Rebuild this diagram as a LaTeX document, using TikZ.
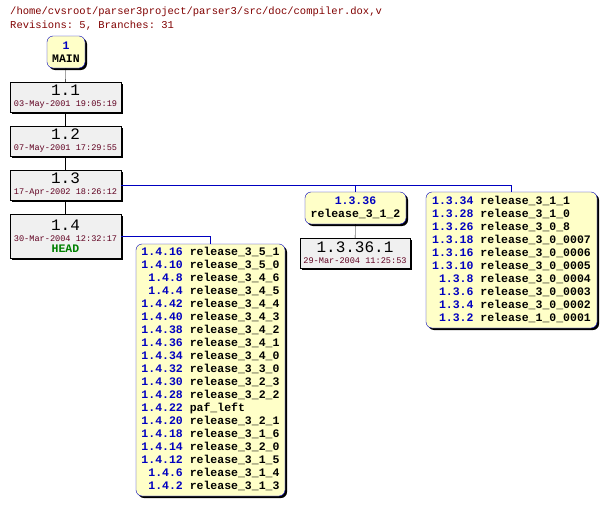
\documentclass[tikz,border=0pt]{standalone}
\usepackage{fontspec}
\setmonofont{Liberation Mono}
\usetikzlibrary{shadows}
\definecolor{tagblue}{HTML}{0000C0}
\definecolor{tagfill}{HTML}{FFFFC8}
\definecolor{revfill}{HTML}{F0F0F0}
\definecolor{titlered}{HTML}{800000}
\definecolor{datered}{HTML}{600020}
\definecolor{headgreen}{HTML}{008000}
\newcommand{\revbox}[2]{{\fontsize{16}{17}\selectfont #1}\\[-1pt]{\fontsize{8.6}{9}\selectfont\color{datered}#2}}
\newcommand{\rv}[1]{\textcolor{tagblue}{#1}}
\tikzset{
  shd/.style={drop shadow={shadow xshift=2pt,shadow yshift=-2pt,fill=black,opacity=1}},
  rev/.style={draw=black,fill=revfill,shd,minimum width=111pt,minimum height=30pt,
    inner sep=0pt,align=center,font=\ttfamily},
  tag/.style={draw=tagblue,fill=tagfill,shd,rounded corners=6pt,inner sep=0pt,
    align=center,font=\ttfamily\bfseries\fontsize{11.5}{13}\selectfont},
  link/.style={draw=black},
  branch/.style={draw=tagblue}
}
\begin{document}
\begin{tikzpicture}[x=1pt,y=-1pt]
  \useasboundingbox (0,0) rectangle (606,506);

  \node[anchor=base west,font=\ttfamily\fontsize{10.5}{12}\selectfont,text=titlered,inner sep=0pt]
    (title) at (10,15) {/home/cvsroot/parser3project/parser3/src/doc/compiler.dox,v};
  \node[anchor=base west,font=\ttfamily\fontsize{10.5}{12}\selectfont,text=titlered,inner sep=0pt]
    (stats) at (10,28) {Revisions: 5, Branches: 31};

  % trunk
  \node[tag,minimum width=38pt,minimum height=32pt] (main) at (66,52) {\rv{1}\\MAIN};
  \node[rev] (r11) at (65.5,97) {\revbox{1.1}{03-May-2001 19:05:19}};
  \node[rev] (r12) at (65.5,141) {\revbox{1.2}{07-May-2001 17:29:55}};
  \node[rev] (r13) at (65.5,185) {\revbox{1.3}{17-Apr-2002 18:26:12}};
  \node[rev,minimum height=44pt] (r14) at (65.5,236)
    {\revbox{1.4}{30-Mar-2004 12:32:17}\\[-1pt]{\fontsize{11.5}{12}\selectfont\bfseries\color{headgreen}HEAD}};

  % branches of 1.3
  \node[tag,minimum width=101pt,minimum height=32pt] (b1336) at (355.5,208) {\rv{1.3.36}\\release\_3\_1\_2};
  \node[rev,minimum width=110pt] (r13361) at (355,253) {\revbox{1.3.36.1}{29-Mar-2004 11:25:53}};
  \node[tag,minimum width=171pt,minimum height=136pt] (b13) at (511.5,260) {%
    \begin{tabular}{@{}r@{ }l@{}}
    \rv{1.3.34} & release\_3\_1\_1\\
    \rv{1.3.28} & release\_3\_1\_0\\
    \rv{1.3.26} & release\_3\_0\_8\\
    \rv{1.3.18} & release\_3\_0\_0007\\
    \rv{1.3.16} & release\_3\_0\_0006\\
    \rv{1.3.10} & release\_3\_0\_0005\\
    \rv{1.3.8} & release\_3\_0\_0004\\
    \rv{1.3.6} & release\_3\_0\_0003\\
    \rv{1.3.4} & release\_3\_0\_0002\\
    \rv{1.3.2} & release\_1\_0\_0001
    \end{tabular}};

  % branches of 1.4
  \node[tag,minimum width=149pt,minimum height=252pt] (b14) at (210.5,370) {%
    \begin{tabular}{@{}r@{ }l@{}}
    \rv{1.4.16} & release\_3\_5\_1\\
    \rv{1.4.10} & release\_3\_5\_0\\
    \rv{1.4.8} & release\_3\_4\_6\\
    \rv{1.4.4} & release\_3\_4\_5\\
    \rv{1.4.42} & release\_3\_4\_4\\
    \rv{1.4.40} & release\_3\_4\_3\\
    \rv{1.4.38} & release\_3\_4\_2\\
    \rv{1.4.36} & release\_3\_4\_1\\
    \rv{1.4.34} & release\_3\_4\_0\\
    \rv{1.4.32} & release\_3\_3\_0\\
    \rv{1.4.30} & release\_3\_2\_3\\
    \rv{1.4.28} & release\_3\_2\_2\\
    \rv{1.4.22} & paf\_left\\
    \rv{1.4.20} & release\_3\_2\_1\\
    \rv{1.4.18} & release\_3\_1\_6\\
    \rv{1.4.14} & release\_3\_2\_0\\
    \rv{1.4.12} & release\_3\_1\_5\\
    \rv{1.4.6} & release\_3\_1\_4\\
    \rv{1.4.2} & release\_3\_1\_3
    \end{tabular}};

  % connectors
  \draw[link] (main) -- (r11);
  \draw[link] (r11) -- (r12);
  \draw[link] (r12) -- (r13);
  \draw[link] (r13) -- (r14);
  \draw[link] (b1336) -- (r13361);
  \draw[branch] (r13.east) -| (b1336.north);
  \draw[branch] (r13.east) -| (b13.north);
  \draw[branch] (r14.east) -| (b14.north);
\end{tikzpicture}
\end{document}
